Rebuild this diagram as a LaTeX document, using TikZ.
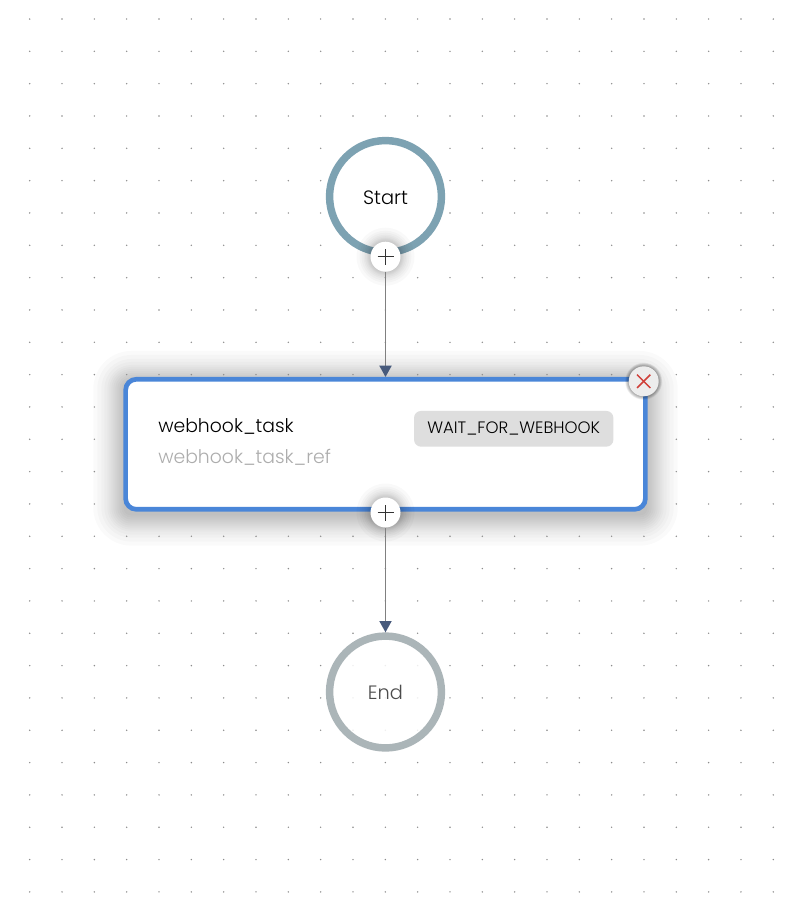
\documentclass[tikz,border=0pt]{standalone}
\usepackage{fontspec}
\setmainfont{Poppins}[UprightFont=* Light]
\usepackage{xcolor}
\usetikzlibrary{arrows.meta, positioning, calc, backgrounds}
\definecolor{startring}{RGB}{125,162,178}
\definecolor{endring}{RGB}{171,181,184}
\definecolor{taskblue}{RGB}{74,134,216}
\definecolor{tipblue}{RGB}{71,90,124}
\definecolor{closered}{RGB}{208,64,58}

\begin{document}
\begin{tikzpicture}[
    x=0.75pt, y=-0.75pt,
    griddot/.style={fill=black!45},
    terminal/.style={circle, line width=5.6pt, minimum size=83.9pt, inner sep=0pt, fill=white, text height=11.9pt, text depth=0pt, font=\fontsize{14.5}{16}\selectfont},
    taskbox/.style={rectangle, draw=taskblue, line width=3.5pt, fill=white, minimum width=389.8pt, minimum height=97.5pt, rounded corners=8pt},
    tasktext/.style={anchor=base west, inner sep=0pt, font=\fontsize{14.1}{16}\selectfont},
    typebadge/.style={rectangle, fill=black!13, minimum width=149.5pt, minimum height=26.8pt, rounded corners=5.25pt, inner sep=0pt, font=\fontsize{12.4}{14}\selectfont},
    addbtn/.style={circle, fill=white, minimum size=22.5pt, inner sep=0pt, path picture={
        \draw[black!80, line width=1.1pt] ([xshift=-6pt]path picture bounding box.center) -- ([xshift=6pt]path picture bounding box.center);
        \draw[black!80, line width=1.1pt] ([yshift=-6pt]path picture bounding box.center) -- ([yshift=6pt]path picture bounding box.center);}},
    closebtn/.style={circle, fill=black!7, minimum size=22.5pt, inner sep=0pt, path picture={
        \draw[closered, line width=1.1pt] ([shift={(-5pt,-5pt)}]path picture bounding box.center) -- ([shift={(5pt,5pt)}]path picture bounding box.center);
        \draw[closered, line width=1.1pt] ([shift={(-5pt,5pt)}]path picture bounding box.center) -- ([shift={(5pt,-5pt)}]path picture bounding box.center);}},
    link/.style={draw=black!50, line width=1.4pt, -{Triangle[length=8.5pt, width=9pt, color=tipblue]}}
]
    \useasboundingbox (0,0) rectangle (796,918);

    \node[terminal, draw=startring] (start) at (385.5,196.5) {Start};
    \node[taskbox] (task) at (385.5,444.3) {};
    \node[terminal, draw=endring, fill opacity=.85, draw opacity=1, text opacity=1, text=black!70] (end) at (385.5,692) {End};

    \node[tasktext] (taskname) at (158,432.7) {webhook\_task};
    \node[tasktext, text=black!32] (taskref) at (158,463) {webhook\_task\_ref};
    \node[typebadge] (tasktype) at (513.7,428.8) {WAIT\_FOR\_WEBHOOK};

    % canvas dots and the soft shadow of the box
    \begin{scope}[on background layer]
        \fill[white] (0,0) rectangle (796,918);
        \foreach \s in {0,2,4,6,8,10,12,14,16,19,22,26,30}
            \fill[black, opacity=.018, rounded corners={(8+\s)*0.75pt}] ([shift={(-\s,-\s+4)}]task.north west) rectangle ([shift={(\s,\s+4)}]task.south east);
        \foreach \i in {0,...,23}
            \foreach \j in {0,...,27}
                \fill[griddot] ({29.7+32.33*\i},{19+32.33*\j}) circle (.8);
    \end{scope}

    % button shadows
    \foreach \cx/\cy in {385.5/256.7, 385.5/512.5}
        \foreach \s in {15,16,17,18,19,20.5,22,24,26,29}
            \fill[black, opacity=.022] (\cx,\cy) circle (\s);
    \foreach \s in {15,15.5,...,18.5}
        \fill[black, opacity=.05] (643.7,381.3) circle (\s);

    \node[addbtn] (addstart) at (385.5,256.7) {};
    \node[addbtn] (addtask) at (385.5,512.5) {};
    \node[closebtn] (closetask) at (643.7,381.3) {};

    \draw[link] (addstart) -- (task);
    \draw[link] (addtask) -- (end);
\end{tikzpicture}
\end{document}
